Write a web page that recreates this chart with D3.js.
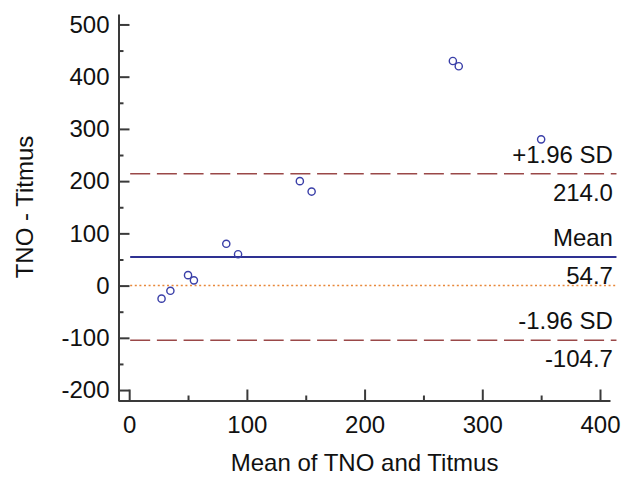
<!DOCTYPE html>
<html>
<head>
<meta charset="utf-8">
<script src="https://cdn.jsdelivr.net/npm/d3@7"></script>
<style>
  html, body { margin: 0; padding: 0; background: #fff; }
  svg { display: block; }
  text { font-family: Arial, "Liberation Sans", sans-serif; fill: #111; }
</style>
</head>
<body>
<svg id="chart" width="642" height="478"></svg>
<script>
// ---- data ----
const meanValues = [27.5, 35, 50, 55, 82.5, 92.5, 145, 155, 275, 280, 350];
const diffValues = [-25, -10, 20, 10, 80, 60, 200, 180, 430, 420, 280];
const xTicks = [0, 100, 200, 300, 400];
const xMinorTicks = [50, 150, 250, 350];
const yTicks = [-200, -100, 0, 100, 200, 300, 400, 500];
const yMinorTicks = [-150, -50, 50, 150, 250, 350, 450];
const refValues = [214.0, 54.7, -104.7, 0];
const refTopLabels = ["+1.96 SD", "Mean", "-1.96 SD", ""];
const refBottomLabels = ["214.0", "54.7", "-104.7", ""];
const refKinds = ["sd", "mean", "sd", "zero"];
const xTitle = "Mean of TNO and Titmus";
const yTitle = "TNO - Titmus";

// ---- layout ----
const svg = d3.select("#chart");
const x = d3.scaleLinear().domain([-9.5, 408.5]).range([118, 610]);
const y = d3.scaleLinear().domain([-220, 520]).range([400.5, 14]);
const axisColor = "#3a3a3a";
const fontSize = 24;
const fmt = d => String(d);

// reference lines
const styles = {
  sd:   { stroke: "#9a4848", width: 1.5, dash: "20,6.7" },
  mean: { stroke: "#2e3192", width: 2,   dash: null },
  zero: { stroke: "#e8883a", width: 1.5, dash: "2,2.6" }
};
const refG = svg.append("g");
refValues.forEach((v, i) => {
  const s = styles[refKinds[i]];
  refG.append("line")
    .attr("x1", x(0) + 1).attr("x2", x(414))
    .attr("y1", y(v)).attr("y2", y(v))
    .attr("stroke", s.stroke).attr("stroke-width", s.width)
    .attr("stroke-dasharray", s.dash);
  if (refTopLabels[i]) {
    refG.append("text")
      .attr("x", x(411)).attr("y", y(v) - 11)
      .attr("text-anchor", "end").attr("font-size", fontSize)
      .text(refTopLabels[i]);
  }
  if (refBottomLabels[i]) {
    refG.append("text")
      .attr("x", x(411)).attr("y", y(v) + 27)
      .attr("text-anchor", "end").attr("font-size", fontSize)
      .text(refBottomLabels[i]);
  }
});

// points
svg.append("g").selectAll("circle")
  .data(meanValues.map((m, i) => [m, diffValues[i]]))
  .join("circle")
  .attr("cx", d => x(d[0]))
  .attr("cy", d => y(d[1]))
  .attr("r", 3.6)
  .attr("fill", "none")
  .attr("stroke", "#3a3fa8")
  .attr("stroke-width", 1.4);

// axes
function styleAxis(g) {
  g.selectAll("path, line").attr("stroke", axisColor).attr("stroke-width", 2);
  g.selectAll("text").attr("font-size", fontSize)
    .attr("font-family", "Arial, 'Liberation Sans', sans-serif").attr("fill", "#111");
}

const yAxis = svg.append("g").attr("transform", "translate(118.5,0)")
  .call(d3.axisLeft(y).tickValues(yTicks).tickFormat(fmt).tickSize(-11).tickSizeOuter(0).tickPadding(9));
styleAxis(yAxis);
const yMinor = svg.append("g").attr("transform", "translate(118.5,0)")
  .call(d3.axisLeft(y).tickValues(yMinorTicks).tickSize(-5).tickSizeOuter(0).tickFormat(""));
yMinor.select(".domain").remove();
styleAxis(yMinor);

const xAxis = svg.append("g").attr("transform", "translate(0,400.5)")
  .call(d3.axisBottom(x).tickValues(xTicks).tickFormat(fmt).tickSize(-11).tickSizeOuter(0).tickPadding(15));
styleAxis(xAxis);
const xMinor = svg.append("g").attr("transform", "translate(0,400.5)")
  .call(d3.axisBottom(x).tickValues(xMinorTicks).tickSize(-5).tickSizeOuter(0).tickFormat(""));
xMinor.select(".domain").remove();
styleAxis(xMinor);

// titles
svg.append("text")
  .attr("x", x(200)).attr("y", 471)
  .attr("text-anchor", "middle").attr("font-size", fontSize)
  .text(xTitle);
svg.append("text")
  .attr("transform", "translate(33,207) rotate(-90)")
  .attr("text-anchor", "middle").attr("font-size", fontSize)
  .text(yTitle);
</script>
</body>
</html>
